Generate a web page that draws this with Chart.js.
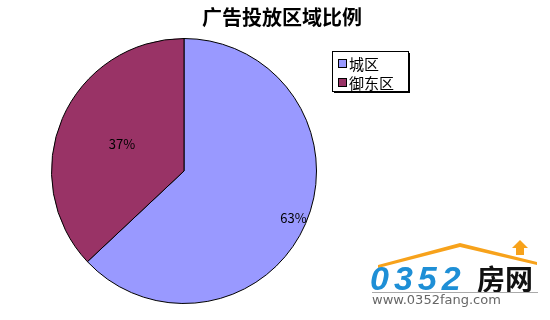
<!DOCTYPE html>
<html>
<head>
<meta charset="utf-8">
<script src="https://cdn.jsdelivr.net/npm/chart.js@4.4.0/dist/chart.umd.min.js"></script>
<style>
  html, body { margin: 0; padding: 0; background: #fff; }
  #wrap { position: relative; width: 550px; height: 320px; }
</style>
</head>
<body>
<div id="wrap"><canvas id="pieChart" width="550" height="320"></canvas></div>
<script>
// chart data
const chartTitle = "广告投放区域比例";
const regions = ["城区", "御东区"];
const shares = [63, 37];
const sliceColors = ["#9999FF", "#993366"];

const cjk = '"Noto Sans CJK SC", "DejaVu Sans", sans-serif';

// title, legend box, percent labels and the site watermark
const decorPlugin = {
  id: "decor",
  afterDraw(chart) {
    const ctx = chart.ctx;
    ctx.save();

    // title
    ctx.fillStyle = "#000";
    ctx.font = "bold 20px " + cjk;
    ctx.textAlign = "center";
    ctx.textBaseline = "middle";
    ctx.fillText(chartTitle, 282, 17);

    // percent labels
    const meta = chart.getDatasetMeta(0);
    const total = shares.reduce((a, b) => a + b, 0);
    const radial = [0.9, 0.51];
    ctx.font = "13px " + cjk;
    meta.data.forEach((arc, i) => {
      const mid = (arc.startAngle + arc.endAngle) / 2;
      const r = arc.outerRadius * radial[i];
      const x = arc.x + Math.cos(mid) * r;
      const y = arc.y + Math.sin(mid) * r;
      ctx.fillStyle = "#000";
      ctx.fillText(Math.round(shares[i] / total * 100) + "%", x, y);
    });

    // legend box with shadow
    const lx = 332, ly = 51, lw = 76, lh = 40;
    ctx.fillStyle = "#000";
    ctx.fillRect(lx + 2, ly + 2, lw, lh);
    ctx.fillStyle = "#fff";
    ctx.fillRect(lx, ly, lw, lh);
    ctx.strokeStyle = "#000";
    ctx.lineWidth = 1;
    ctx.strokeRect(lx + 0.5, ly + 0.5, lw, lh);
    ctx.textAlign = "left";
    ctx.font = "15px " + cjk;
    regions.forEach((name, i) => {
      const y = ly + 12 + i * 19;
      ctx.fillStyle = sliceColors[i];
      ctx.fillRect(lx + 6, y - 4, 9, 9);
      ctx.strokeStyle = "#000";
      ctx.strokeRect(lx + 6.5, y - 3.5, 8, 8);
      ctx.fillStyle = "#000";
      ctx.fillText(name, lx + 17, y + 1);
    });

    // watermark
    ctx.fillStyle = "#f7a21b";
    ctx.beginPath();
    ctx.moveTo(378, 265);
    ctx.lineTo(460, 243);
    ctx.lineTo(537, 262);
    ctx.lineTo(537, 265);
    ctx.lineTo(460, 247);
    ctx.lineTo(378, 268);
    ctx.closePath();
    ctx.fill();
    ctx.beginPath();
    ctx.moveTo(512, 248);
    ctx.lineTo(520, 240);
    ctx.lineTo(528, 248);
    ctx.lineTo(524, 248);
    ctx.lineTo(524, 255);
    ctx.lineTo(516, 255);
    ctx.lineTo(516, 248);
    ctx.closePath();
    ctx.fill();

    ctx.textBaseline = "alphabetic";
    ctx.font = "italic bold 34px " + '"Liberation Sans", sans-serif';
    ctx.fillStyle = "#1e8fd6";
    ctx.letterSpacing = "5px";
    ctx.fillText("0352", 370, 290, 106);
    ctx.letterSpacing = "0px";
    ctx.font = "bold 28px " + cjk;
    ctx.fillStyle = "#111";
    ctx.fillText("房网", 477, 290, 60);
    ctx.fillStyle = "#aaa";
    ctx.fillRect(372, 292, 166, 1);
    ctx.font = "13px " + '"DejaVu Sans", sans-serif';
    ctx.fillStyle = "#666";
    ctx.textBaseline = "middle";
    ctx.fillText("www.0352fang.com", 372, 301);

    ctx.restore();
  },
};

const pieCtx = document.getElementById("pieChart").getContext("2d");
const pieChart = new Chart(pieCtx, {
  type: "pie",
  data: {
    labels: regions,
    datasets: [
      {
        data: shares,
        backgroundColor: sliceColors,
        borderColor: "#000",
        borderWidth: 1,
      },
    ],
  },
  options: {
    responsive: false,
    animation: false,
    layout: {
      padding: { left: 51, right: 233, top: 38, bottom: 16 },
    },
    plugins: {
      legend: { display: false },
      title: { display: false },
      tooltip: { enabled: false },
    },
  },
  plugins: [decorPlugin],
});
</script>
</body>
</html>
